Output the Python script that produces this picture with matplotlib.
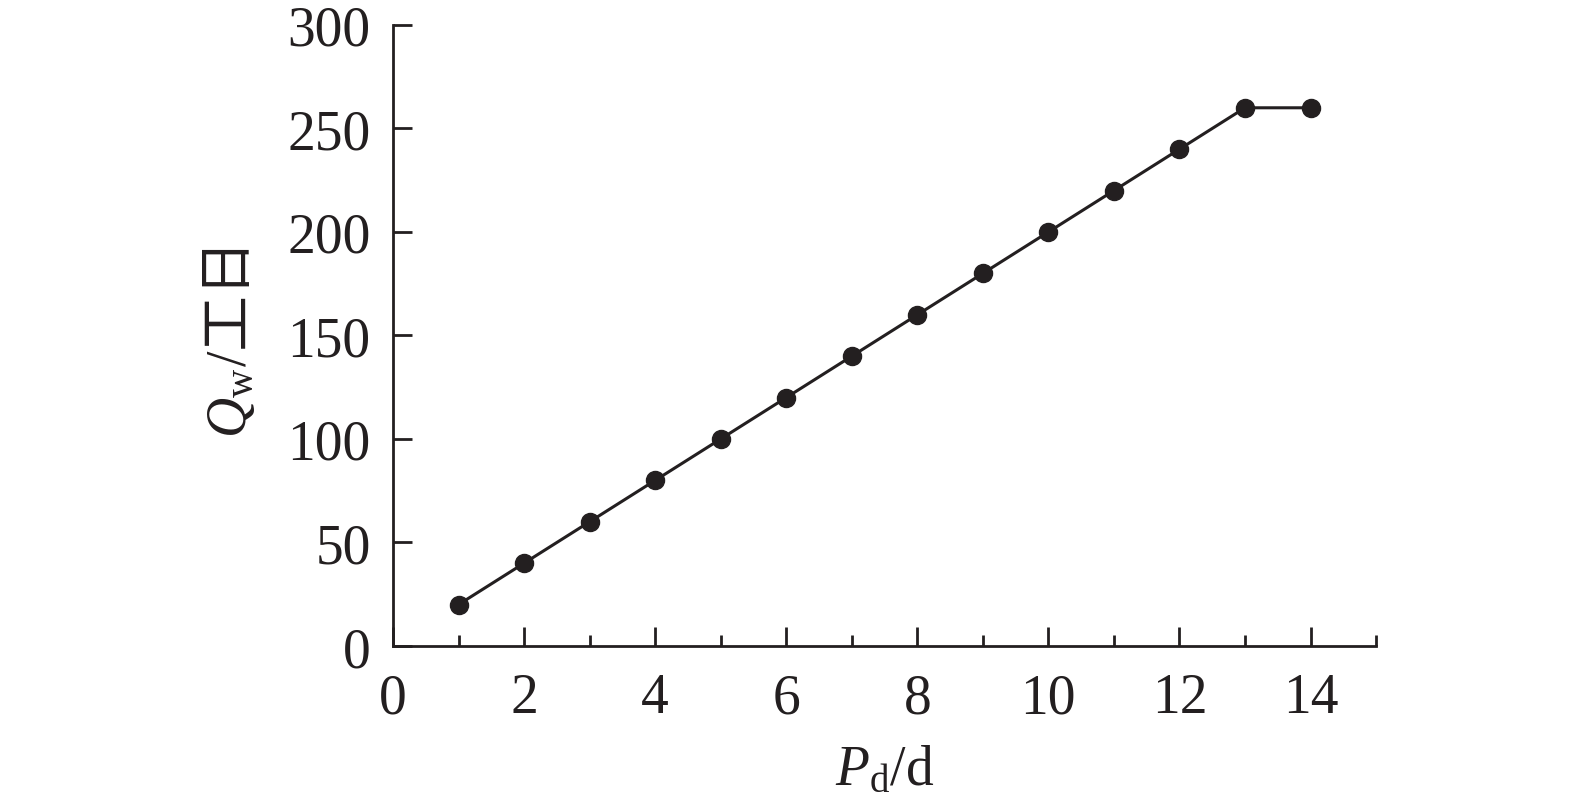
import matplotlib
matplotlib.use("Agg")
import matplotlib.pyplot as plt
from matplotlib.ticker import MultipleLocator
from matplotlib.transforms import IdentityTransform

plt.rcParams["font.family"] = ["Liberation Serif", "Noto Sans CJK SC"]
plt.rcParams["mathtext.fontset"] = "custom"
plt.rcParams["mathtext.rm"] = "Liberation Serif"
plt.rcParams["mathtext.it"] = "Liberation Serif:italic"

# data
days = [1, 2, 3, 4, 5, 6, 7, 8, 9, 10, 11, 12, 13, 14]
workdays = [20, 40, 60, 80, 100, 120, 140, 160, 180, 200, 220, 240, 260, 260]

ink = "#231f20"

fig = plt.figure(figsize=(15.75, 8.12), dpi=100)
ax = fig.add_axes([0.2495, 0.2032, 0.6242, 0.7648])

ax.plot(days, workdays, color=ink, lw=2.2, marker="o", ms=13, mfc=ink, mec=ink)

ax.set_xlim(0, 15)
ax.set_ylim(0, 300)
ax.xaxis.set_major_locator(MultipleLocator(2))
ax.xaxis.set_minor_locator(MultipleLocator(1))
ax.yaxis.set_major_locator(MultipleLocator(50))

for side in ("top", "right"):
    ax.spines[side].set_visible(False)
for side in ("left", "bottom"):
    ax.spines[side].set_linewidth(2.0)
    ax.spines[side].set_color(ink)

ax.tick_params(axis="both", which="major", direction="in", length=14, width=2.0,
               color=ink, labelsize=40, labelcolor=ink)
ax.tick_params(axis="x", which="major", pad=19)
ax.tick_params(axis="y", which="major", pad=16)
ax.tick_params(axis="x", which="minor", direction="in", length=8, width=2.0, color=ink)

ax.set_xlabel(r"$\mathit{P}_{\mathrm{d}}$/d", fontsize=40, color=ink, labelpad=14)

# y label: math part and CJK part drawn as two pieces (mathtext has no CJK fallback)
base_x = 246
center_y = 812 - 340
kw = dict(rotation=90, rotation_mode="anchor", ha="left", va="baseline",
          fontsize=40, color=ink, transform=IdentityTransform())
t1 = fig.text(base_x, 0, r"$\mathit{Q}_{\mathrm{w}}$", **kw)
t2 = fig.text(base_x, 0, "/工日", **kw)
fig.canvas.draw()
r = fig.canvas.get_renderer()
h1 = t1.get_window_extent(r).height
h2 = t2.get_window_extent(r).height
start = center_y - (h1 + h2) / 2
t1.set_position((base_x, start))
t2.set_position((base_x, start + h1 + 2))

fig.savefig("out.png", dpi=100)
